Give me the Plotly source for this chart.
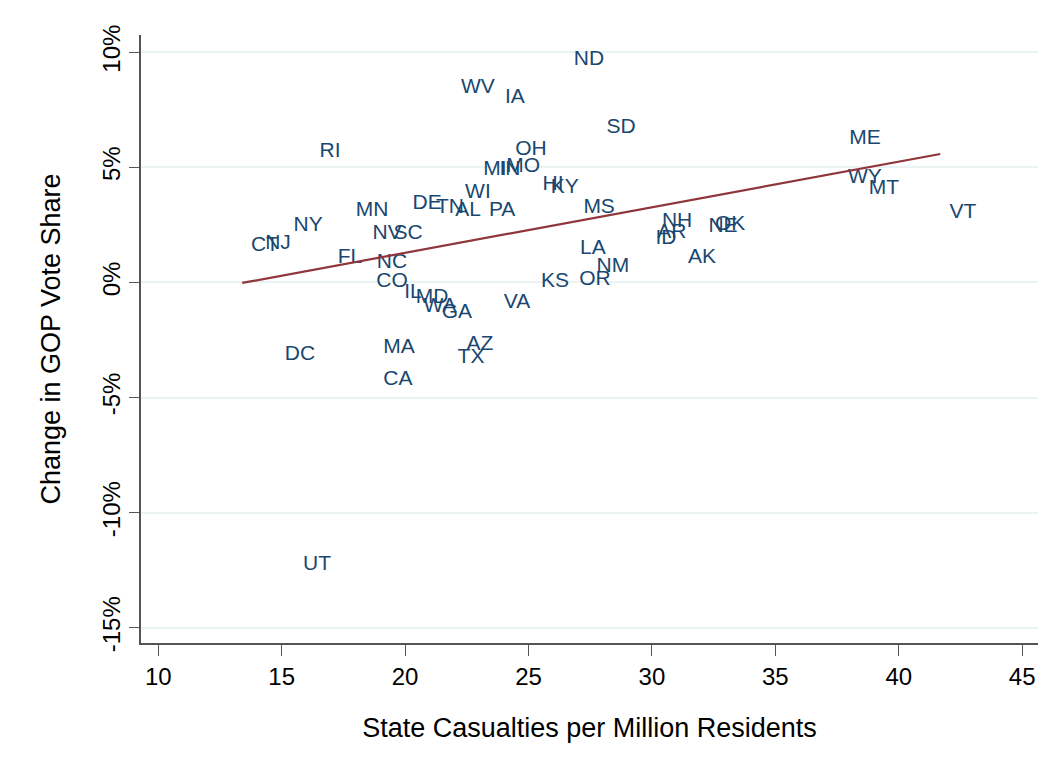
import plotly.graph_objects as go

# State labels and their positions (casualties per million, change in GOP vote share %)
states = ["ND", "WV", "IA", "SD", "RI", "OH", "ME", "MI", "IN", "MO",
          "HI", "KY", "WI", "DE", "TN", "AL", "PA", "MS", "MN", "NY",
          "NV", "SC", "CT", "NJ", "FL", "NC", "CO", "IL", "MD", "WA",
          "GA", "VA", "KS", "OR", "NM", "LA", "DC", "MA", "CA", "AZ",
          "TX", "UT", "NH", "AR", "ID", "NE", "OK", "AK", "WY", "MT", "VT"]
casualties = [27.45, 22.95, 24.45, 28.75, 16.96, 25.10, 38.63, 23.64, 24.25, 24.78,
              25.99, 26.47, 22.95, 20.89, 21.82, 22.55, 23.93, 27.86, 18.66, 16.07,
              19.27, 20.12, 14.32, 14.85, 17.77, 19.47, 19.47, 20.32, 21.09, 21.41,
              22.10, 24.53, 26.07, 27.69, 28.42, 27.61, 15.74, 19.75, 19.71, 23.03,
              22.67, 16.43, 31.02, 30.81, 30.57, 32.88, 33.17, 32.03, 38.63, 39.40, 42.60]
gop_change = [9.67, 8.45, 8.01, 6.71, 5.67, 5.76, 6.23, 4.89, 4.89, 5.02,
              4.24, 4.10, 3.89, 3.41, 3.24, 3.11, 3.11, 3.24, 3.11, 2.45,
              2.11, 2.11, 1.59, 1.67, 1.06, 0.85, 0.02, -0.46, -0.67, -1.06,
              -1.32, -0.89, 0.02, 0.11, 0.67, 1.46, -3.15, -2.85, -4.24, -2.72,
              -3.28, -12.27, 2.63, 2.15, 1.89, 2.41, 2.50, 1.06, 4.54, 4.06, 3.02]

# Linear fit endpoints
fit_x = [13.40, 41.68]
fit_y = [-0.02, 5.58]

x_ticks = [10, 15, 20, 25, 30, 35, 40, 45]
y_ticks = [-15, -10, -5, 0, 5, 10]
y_tick_labels = ["-15%", "-10%", "-5%", "0%", "5%", "10%"]

FONT = "Liberation Sans, Arial, sans-serif"
NAVY = "#1a476f"
MAROON = "#90353b"
AXIS = "#555555"

fig = go.Figure()
fig.add_trace(go.Scatter(
    x=casualties, y=gop_change, text=states, mode="text",
    textposition="middle center",
    textfont=dict(family=FONT, size=21, color=NAVY),
    cliponaxis=False, showlegend=False, hoverinfo="text"))
fig.add_trace(go.Scatter(
    x=fit_x, y=fit_y, mode="lines",
    line=dict(color=MAROON, width=2.2), showlegend=False))

fig.update_layout(
    width=1055, height=774,
    margin=dict(l=133, r=25, t=27, b=139),
    paper_bgcolor="white", plot_bgcolor="white",
    font=dict(family=FONT, color="black"),
)
fig.update_xaxes(
    range=[9.30, 45.64], tickvals=x_ticks, ticktext=[str(v) for v in x_ticks],
    showgrid=False, zeroline=False, showline=True, linecolor=AXIS, linewidth=1.5,
    ticks="outside", ticklen=11, tickcolor=AXIS, tickwidth=1.3,
    tickfont=dict(family=FONT, size=24, color="black"),
    title=dict(text="State Casualties per Million Residents",
               font=dict(family=FONT, size=27, color="black"), standoff=30),
)
fig.update_yaxes(
    range=[-15.66, 10.75], tickvals=y_ticks, ticktext=y_tick_labels, tickangle=-90,
    showgrid=True, gridcolor="#eaf2f3", gridwidth=2, zeroline=False,
    showline=True, linecolor=AXIS, linewidth=1.5,
    ticks="outside", ticklen=10, tickcolor=AXIS, tickwidth=1.3,
    tickfont=dict(family=FONT, size=24, color="black"),
    title=dict(text="Change in GOP Vote Share",
               font=dict(family=FONT, size=27, color="black"), standoff=29),
)

fig.write_html("out.html")
